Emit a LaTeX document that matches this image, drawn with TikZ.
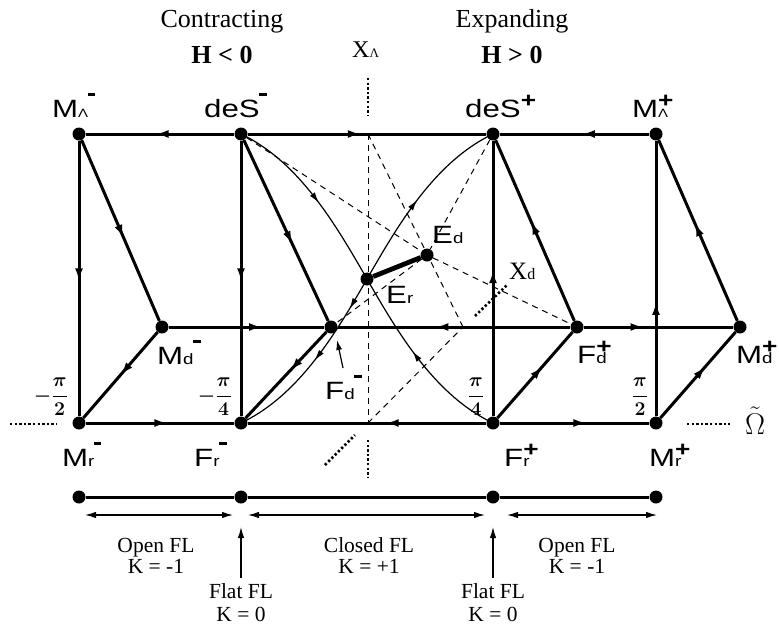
\RequirePackage{fix-cm}
\documentclass[tikz,border=0pt]{standalone}
\usepackage{fontspec}
\setmainfont{Liberation Serif}
\newfontfamily\sans[FakeStretch=1.25]{Liberation Sans}
\usetikzlibrary{arrows.meta,decorations.markings}
\newcommand\subf{\fontsize{15}{15}\selectfont}
\newcommand\subl{\fontsize{12}{12}\selectfont}
\newcommand\LM[2]{#1{#2}\kern-0.5pt\rule[21pt]{7.5pt}{3.2pt}}
\newcommand\LP[2]{#1\rlap{#2}\raisebox{10pt}{\fontsize{21}{21}\selectfont\bfseries +}}
\begin{document}
\begin{tikzpicture}[x=1pt,y=-1pt,
  dot/.style={circle,fill,inner sep=0pt,minimum size=13pt},
  ax/.style={line width=3pt},
  thn/.style={line width=1.2pt},
  dsh/.style={line width=1pt,dash pattern=on 6pt off 5pt},
  dtd/.style={line width=2.6pt,dash pattern=on 2.3pt off 2.3pt},
  am/.style={postaction={decorate},decoration={markings,mark=at position #1 with {\arrow{Latex[length=13pt,width=8pt]}}}},
  lb/.style={inner sep=0pt,anchor=base west,font=\sans\fontsize{25}{25}\selectfont},
  sr/.style={inner sep=0pt,anchor=base,font=\fontsize{21.5}{21.5}\selectfont},
  hd/.style={inner sep=0pt,anchor=base,font=\fontsize{26}{26}\selectfont},
  fr/.style={inner sep=0pt,font=\fontsize{19.5}{19.5}\selectfont\boldmath},
  ta/.style={line width=1.3pt,{Latex[length=11pt,width=6.5pt]}-{Latex[length=11pt,width=6.5pt]}},
  ua/.style={line width=1.3pt,-{Latex[length=11pt,width=6.5pt]}}
]
\useasboundingbox (0,0) rectangle (779,632);

% nodes
\node[dot] (Mlm) at (79,134) {};
\node[dot] (dSm) at (241,134) {};
\node[dot] (dSp) at (493,134) {};
\node[dot] (Mlp) at (656,134) {};
\node[dot] (Mdm) at (162,327) {};
\node[dot] (Fdm) at (331,327) {};
\node[dot] (Fdp) at (577,327) {};
\node[dot] (Mdp) at (740,327) {};
\node[dot] (Mrm) at (79,423) {};
\node[dot] (Frm) at (241,423) {};
\node[dot] (Frp) at (493,423) {};
\node[dot] (Mrp) at (656,423) {};
\node[dot] (Er) at (367,279) {};
\node[dot] (Ed) at (427,255) {};
\coordinate (XLt) at (368,134);
\coordinate (XLb) at (368,423);
\coordinate (Xdp) at (463,327);

% dashed lines
\draw[dsh] (XLt) -- (XLb);
\draw[dsh] (XLt) -- (Xdp);
\draw[dsh] (XLb) -- (Xdp);
\draw[dsh] (dSm) -- (Ed);
\draw[dsh] (Ed) -- (Fdp);
\draw[dsh] (dSp) -- (Ed);
\draw[dsh] (Ed) -- (Fdm);

% thin curves
\draw[thn,postaction={decorate},decoration={markings,
  mark=at position 0.27 with {\arrow{Latex[length=11pt,width=6pt]}},
  mark=at position 0.72 with {\arrowreversed{Latex[length=11pt,width=6pt]}}}]
  (dSm.center) .. controls (300,162) and (337,227) .. (Er.center)
  .. controls (397,331) and (434,395) .. (Frp.center);
\draw[thn,postaction={decorate},decoration={markings,
  mark=at position 0.25 with {\arrowreversed{Latex[length=11pt,width=6pt]}},
  mark=at position 0.41 with {\arrowreversed{Latex[length=11pt,width=6pt]}},
  mark=at position 0.74 with {\arrow{Latex[length=11pt,width=6pt]}}}]
  (Frm.center) .. controls (300,395) and (337,331) .. (Er.center)
  .. controls (397,227) and (434,162) .. (dSp.center);

% thick E_r - E_d
\draw[line width=4.8pt] (Er) -- (Ed);

% top row
\draw[ax,am=0.53] (dSm) -- (Mlm);
\draw[ax,am=0.94] (dSm) -- (XLt);
\draw[ax] (XLt) -- (dSp);
\draw[ax,am=0.45] (Mlp) -- (dSp);
% middle row
\draw[ax,am=0.6] (Mdm) -- (Fdm);
\draw[ax,am=0.58] (Fdp) -- (Fdm);
\draw[ax,am=0.4] (Fdp) -- (Mdp);
% bottom row
\draw[ax,am=0.55] (Mrm) -- (Frm);
\draw[ax] (Frm) -- (XLb);
\draw[ax,am=0.85] (Frp) -- (XLb);
\draw[ax,am=0.58] (Frp) -- (Mrp);
% verticals
\draw[ax,am=0.51] (Mlm) -- (Mrm);
\draw[ax,am=0.51] (dSm) -- (Frm);
\draw[ax,am=0.53] (Frp) -- (dSp);
\draw[ax,am=0.415] (Mrp) -- (Mlp);
% diagonals
\draw[ax,am=0.54] (Mlm) -- (Mdm);
\draw[ax,am=0.575] (dSm) -- (Fdm);
\draw[ax,am=0.5] (Mdm) -- (Mrm);
\draw[ax,am=0.45] (Fdm) -- (Frm);
\draw[ax,am=0.6] (Frp) -- (Fdp);
\draw[ax,am=0.55] (Fdp) -- (dSp);
\draw[ax,am=0.6] (Mrp) -- (Mdp);
\draw[ax,am=0.54] (Mdp) -- (Mlp);

% dotted axis extensions
\coordinate (dl1) at (10,424); \coordinate (dl2) at (57,424);
\coordinate (dr1) at (687,424); \coordinate (dr2) at (730,424);
\coordinate (xt1) at (368,78); \coordinate (xt2) at (368,116);
\coordinate (xb1) at (368,440); \coordinate (xb2) at (368,478);
\coordinate (xd1) at (325,465); \coordinate (xd2) at (355,435);
\coordinate (xd3) at (475,316); \coordinate (xd4) at (507,285);
\draw[dtd] (dl1) -- (dl2);
\draw[dtd] (dr1) -- (dr2);
\draw[dtd] (xt1) -- (xt2);
\draw[dtd] (xb1) -- (xb2);
\draw[dtd] (xd1) -- (xd2);
\draw[dtd] (xd3) -- (xd4);

% F_d^- pointer
\coordinate (pa) at (343,368); \coordinate (pb) at (337,340);
\draw[thn,-{Latex[length=10pt,width=6pt]}] (pa) -- (pb);

% labels
\node[lb] (tMlm) at (52,117) {\LM{M}{\subl Λ}};
\node[lb] (tdSm) at (204,117) {\LM{deS}{}};
\node[lb] (tdSp) at (465,117) {\LP{deS}{}};
\node[lb] (tMlp) at (632,117) {\LP{M}{\subl Λ}};
\node[lb] (tMdm) at (157,364) {\LM{M}{\subf d}};
\node[lb] (tFdm) at (325,399) {\LM{F}{\subf d}};
\node[lb] (tFdp) at (577,363) {\LP{F}{\subf d}};
\node[lb] (tMdp) at (736,363) {\LP{M}{\subf d}};
\node[lb] (tEd) at (432,243) {E{\subf d}};
\node[lb] (tEr) at (386,303) {E{\subf r}};
\node[lb] (tMrm) at (62,466) {\LM{M}{\subf r}};
\node[lb] (tFrm) at (194,466) {\LM{F}{\subf r}};
\node[lb] (tFrp) at (504,466) {\LP{F}{\subf r}};
\node[lb] (tMrp) at (649,466) {\LP{M}{\subf r}};

% serif labels
\node[hd] (c1) at (222,27) {Contracting};
\node[hd] (c2) at (222,63) {\textbf{H < 0}};
\node[hd] (e1) at (512,27) {Expanding};
\node[hd] (e2) at (512,63) {\textbf{H > 0}};
\node[inner sep=0pt,anchor=base west] (xl) at (352,57) {\fontsize{24}{24}\selectfont X{\fontsize{13}{13}\selectfont Λ}};
\node[inner sep=0pt,anchor=base west] (xd) at (509,279) {\fontsize{25}{25}\selectfont X{\fontsize{16}{16}\selectfont d}};
\node[inner sep=0pt,anchor=base west] (om) at (745,434) {\scalebox{1.25}{\fontsize{24}{24}\selectfont$\tilde{\Omega}$}};

% fractions
\node[fr,anchor=east] (f1) at (68,397) {$\displaystyle -\frac{\pi}{2}$};
\node[fr,anchor=east] (f2) at (232,397) {$\displaystyle -\frac{\pi}{4}$};
\node[fr] (f3) at (476,397) {$\displaystyle \frac{\pi}{4}$};
\node[fr] (f4) at (640,397) {$\displaystyle \frac{\pi}{2}$};

% bottom scale
\node[dot] (b1) at (79,497) {};
\node[dot] (b2) at (241,497) {};
\node[dot] (b3) at (493,497) {};
\node[dot] (b4) at (656,497) {};
\draw[ax] (b1) -- (b2) -- (b3) -- (b4);
\coordinate (a1l) at (85,515); \coordinate (a1r) at (233,515);
\coordinate (a2l) at (248,515); \coordinate (a2r) at (485,515);
\coordinate (a3l) at (507,515); \coordinate (a3r) at (657,515);
\draw[ta] (a1l) -- (a1r);
\draw[ta] (a2l) -- (a2r);
\draw[ta] (a3l) -- (a3r);
\coordinate (u1a) at (241,578); \coordinate (u1b) at (241,527);
\coordinate (u2a) at (493,578); \coordinate (u2b) at (493,527);
\draw[ua] (u1a) -- (u1b);
\draw[ua] (u2a) -- (u2b);

\node[sr] (o1) at (156,552) {Open FL};
\node[sr] (k1) at (156,573) {K = -1};
\node[sr] (cl) at (369,552) {Closed FL};
\node[sr] (k2) at (369,573) {K = +1};
\node[sr] (o2) at (577,552) {Open FL};
\node[sr] (k3) at (577,573) {K = -1};
\node[sr] (fl1) at (241,598) {Flat FL};
\node[sr] (k4) at (241,621) {K = 0};
\node[sr] (fl2) at (493,598) {Flat FL};
\node[sr] (k5) at (493,621) {K = 0};
\end{tikzpicture}
\end{document}
